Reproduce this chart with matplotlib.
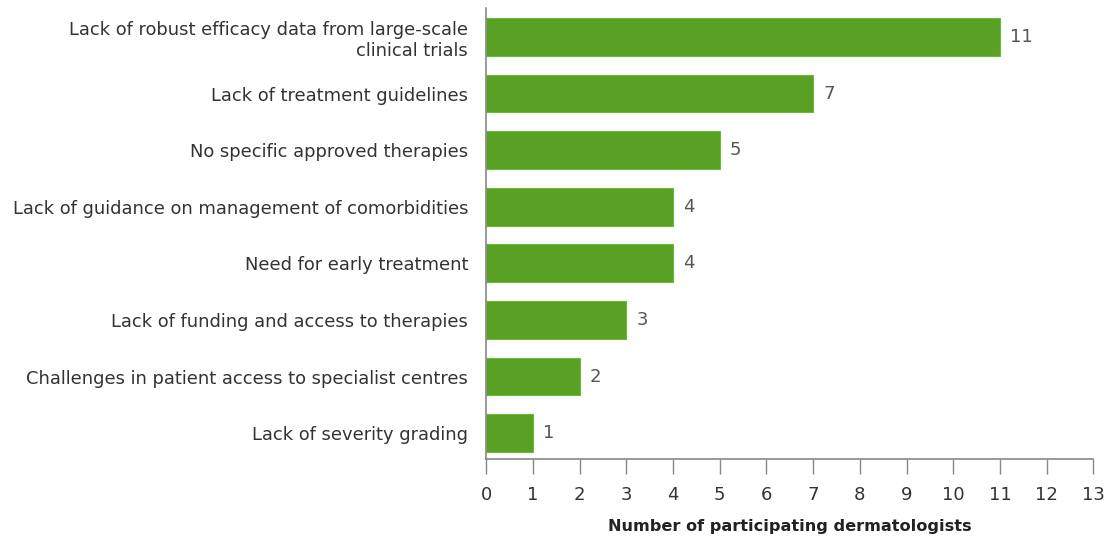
import matplotlib
matplotlib.use("Agg")
from matplotlib import pyplot as plt

categories = [
    "Lack of robust efficacy data from large-scale\nclinical trials",
    "Lack of treatment guidelines",
    "No specific approved therapies",
    "Lack of guidance on management of comorbidities",
    "Need for early treatment",
    "Lack of funding and access to therapies",
    "Challenges in patient access to specialist centres",
    "Lack of severity grading",
]
counts = [11, 7, 5, 4, 4, 3, 2, 1]
xticks = list(range(0, 14))

plt.rcParams["font.family"] = ["DejaVu Sans"]

fig = plt.figure(figsize=(11.1, 5.37), dpi=100)
ax = fig.add_axes([0.438, 0.145, 0.547, 0.84])

ypos = list(range(len(categories)))
ax.barh(ypos, counts, height=0.67, color="#58a125", edgecolor="#6cb83a", linewidth=0.8)

for y, v in zip(ypos, counts):
    ax.text(v + 0.22, y, str(v), va="center", ha="left", fontsize=13, color="#555555")

ax.set_ylim(7.46, -0.51)
ax.set_xlim(0, 13)
ax.set_xticks(xticks)
ax.set_xticklabels([str(t) for t in xticks], fontsize=13, color="#333333")
ax.set_yticks(ypos)
ax.set_yticklabels(categories, fontsize=12.9, color="#333333", linespacing=1.25)

for s in ["top", "right"]:
    ax.spines[s].set_visible(False)
ax.spines["left"].set_color("#888888")
ax.spines["bottom"].set_color("#888888")
ax.spines["left"].set_linewidth(1.2)
ax.spines["bottom"].set_linewidth(1.2)
ax.tick_params(axis="y", length=0, pad=13)
ax.tick_params(axis="x", length=11, width=1.0, color="#888888", pad=8)

ax.set_xlabel("Number of participating dermatologists", fontsize=11.6, fontweight="bold",
              color="#222222", labelpad=11)

fig.savefig("out.png", dpi=100)
